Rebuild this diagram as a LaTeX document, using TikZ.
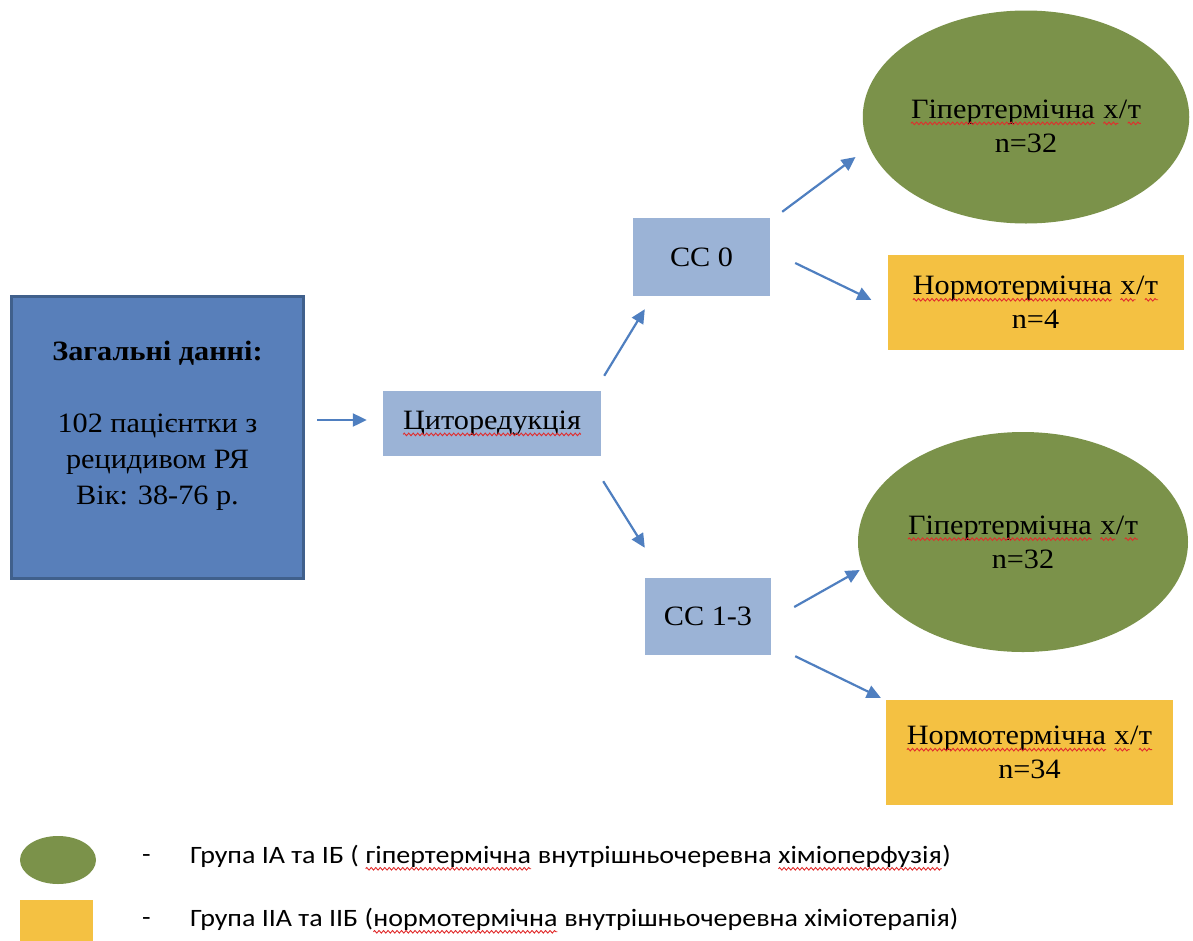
\documentclass[tikz,border=0pt]{standalone}
\usepackage{fontspec}
\setmainfont[FakeStretch=1.08]{Liberation Serif}
\newfontfamily\legendfont[FakeStretch=1.12]{Carlito}
\usetikzlibrary{arrows.meta,shapes.geometric,decorations.pathmorphing}
\definecolor{darkblue}{RGB}{88,127,186}
\definecolor{darkborder}{RGB}{64,96,140}
\definecolor{lightblue}{RGB}{155,179,214}
\definecolor{olive}{RGB}{123,146,74}
\definecolor{amber}{RGB}{244,193,66}
\definecolor{arrowblue}{RGB}{79,127,192}
\definecolor{spellred}{RGB}{225,45,45}
\newcommand\spell[1]{\tikz[baseline=(spw.base)]{\node[rectangle,draw=none,fill=none,inner sep=0pt,outer sep=0pt,minimum width=0pt,minimum height=0pt] (spw) {#1};\draw[spellred,line width=0.9pt,decorate,decoration={zigzag,amplitude=1.3pt,segment length=4.5pt}] ([yshift=-5pt]spw.base west) -- ([yshift=-5pt]spw.base east);}}
\begin{document}
\begin{tikzpicture}[x=1pt,y=-1pt,
  mainfont/.style={font=\fontsize{28}{34}\selectfont},
  genbox/.style={draw=darkborder,line width=3pt,fill=darkblue,minimum width=292pt,minimum height=282pt,inner sep=0pt},
  stagebox/.style={fill=lightblue,inner sep=0pt,mainfont},
  hyperell/.style={ellipse,fill=olive,inner sep=0pt,mainfont,align=center},
  normobox/.style={fill=amber,inner sep=0pt,mainfont,align=center},
  arr/.style={draw=arrowblue,line width=2.2pt,-{Triangle[length=14pt,width=13pt]}},
  legtext/.style={font=\legendfont\fontsize{25}{28}\selectfont,anchor=west,inner sep=0pt}
]
\useasboundingbox (0,0) rectangle (1193,940);
% main nodes
\node[genbox] (gen) at (157.5,437.5) {};
\node[font=\fontsize{28}{36}\selectfont,align=center,inner sep=0pt] (gentext) at (157.5,426) {\textbf{Загальні данні:}\\[36pt]102 пацієнтки з\\рецидивом РЯ\\Вік: 38-76 р.};
\node[stagebox,minimum width=218pt,minimum height=65pt] (cyto) at (492,423.5) {\spell{Циторедукція}};
\node[stagebox,minimum width=137pt,minimum height=78pt] (cc0) at (701.5,257) {CC 0};
\node[stagebox,minimum width=126pt,minimum height=77pt] (cc13) at (708,616.5) {CC 1-3};
\node[hyperell,minimum width=318pt,minimum height=213pt] (ell1) at (1026,117) {\rule{0pt}{37pt}\spell{Гіпертермічна} \spell{х}/\spell{т}\\n=32};
\node[normobox,minimum width=296pt,minimum height=95pt] (yel1) at (1035.5,302.5) {\spell{Нормотермічна} \spell{х}/\spell{т}\\n=4};
\node[hyperell,minimum width=330pt,minimum height=220pt] (ell2) at (1023,542) {\spell{Гіпертермічна} \spell{х}/\spell{т}\\n=32};
\node[normobox,minimum width=287pt,minimum height=105pt] (yel2) at (1029.5,752.5) {\spell{Нормотермічна} \spell{х}/\spell{т}\\n=34};
% connectors
\draw[arr] ([shift={(12,-17.5)}]gen.east) -- ([shift={(-16,-3.5)}]cyto.west);
\draw[arr] ([shift={(3,-15)}]cyto.north east) -- ([shift={(12,13)}]cc0.south west);
\draw[arr] ([shift={(2,25)}]cyto.south east) -- ([shift={(0,-30)}]cc13.north west);
\draw[arr] ([shift={(12,-6)}]cc0.north east) -- ([shift={(-7,40)}]ell1.west);
\draw[arr] ([shift={(25,6)}]cc0.east) -- ([shift={(-16,45)}]yel1.north west);
\draw[arr] ([shift={(23,-9.5)}]cc13.east) -- ([shift={(2,28)}]ell2.west);
\draw[arr] ([shift={(24,1)}]cc13.south east) -- ([shift={(-5,-2)}]yel2.north west);
% legend
\node[ellipse,fill=olive,minimum width=76pt,minimum height=48pt,inner sep=0pt] (legell) at (58,860) {};
\node[fill=amber,minimum width=73pt,minimum height=44pt,inner sep=0pt] (legbox) at (56.5,922) {};
\node[legtext] (dash1) at (142,858) {-};
\node[legtext] (dash2) at (142,921) {-};
\node[legtext] (leg1) at (190,858) {Група ІА та ІБ ( \spell{гіпертермічна} внутрішньочеревна \spell{хіміоперфузія})};
\node[legtext] (leg2) at (190,921) {Група ІІА та ІІБ (\spell{нормотермічна} внутрішньочеревна хіміотерапія)};
\end{tikzpicture}
\end{document}
